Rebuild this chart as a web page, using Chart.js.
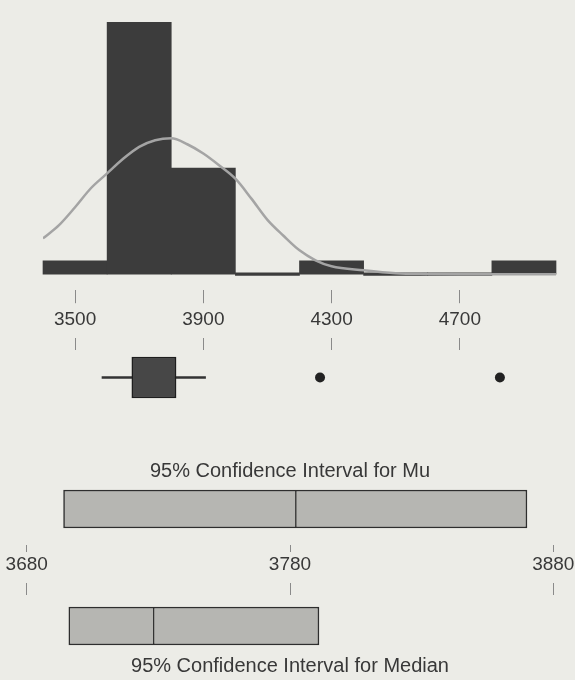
<!DOCTYPE html>
<html>
<head>
<meta charset="utf-8">
<script src="https://cdn.jsdelivr.net/npm/chart.js@4"></script>
<style>
  body { margin: 0; background: #ecece7; }
  #wrap { position: relative; width: 575px; height: 680px; overflow: hidden; }
  canvas { position: absolute; left: 0; }
</style>
</head>
<body>
<div id="wrap">
  <canvas id="hist" width="575" height="336" style="top:0px"></canvas>
  <canvas id="box" width="575" height="74" style="top:336px"></canvas>
  <canvas id="ci" width="575" height="240" style="top:440px"></canvas>
</div>
<script>
// histogram (bin centres, counts) and fitted normal curve
const binCenters = [3500, 3700, 3900, 4100, 4300, 4500, 4700, 4900];
const binCounts = [1, 19, 8, 0, 1, 0, 0, 1];
const histTicks = [3500, 3900, 4300, 4700];
const curveX = [3400, 3450, 3500, 3550, 3600, 3650, 3700, 3750, 3800, 3850, 3900, 3950, 4000,
                4050, 4100, 4150, 4200, 4250, 4300, 4400, 4500, 4600, 4700, 4800, 4900, 5000];
const curveY = [2.7, 3.7, 5.05, 6.5, 7.6, 8.7, 9.6, 10.1, 10.25, 9.8, 9.1, 8.2, 7.2,
                5.7, 4.1, 2.9, 1.8, 1.05, 0.6, 0.3, 0.08, 0.02, 0, 0, 0, 0];

// boxplot
const boxWhisker = [3584, 3907];
const boxQuartiles = [3677, 3815];
const boxOutliers = [4264, 4825];

// confidence intervals: [lower, centre, upper]
const ciTicks = [3680, 3780, 3880];
const muCI = [3694, 3782, 3870];
const medianCI = [3696, 3728, 3791];

Chart.defaults.font.family = "'Liberation Sans', Arial, sans-serif";
Chart.defaults.color = '#383838';
Chart.defaults.animation = false;

const tickGray = '#8a8a8a';
const setTicks = list => scale => { scale.ticks = list.map(v => ({ value: v })); };

new Chart(document.getElementById('hist'), {
    type: 'bar',
    data: {
        datasets: [{
            type: 'line',
            data: curveX.map((x, i) => ({ x: x, y: curveY[i] })),
            borderColor: '#a4a4a4',
            borderWidth: 2.5,
            pointRadius: 0,
            cubicInterpolationMode: 'monotone',
            order: 1
        }, {
            data: binCenters.map((x, i) => ({ x: x, y: binCounts[i] })),
            backgroundColor: '#3c3c3c',
            barPercentage: 1,
            categoryPercentage: 1,
            minBarLength: 2.5,
            clip: false,
            order: 2
        }]
    },
    options: {
        responsive: false,
        layout: { padding: { top: 9, left: 43, right: 19, bottom: 0 } },
        plugins: { legend: { display: false }, tooltip: { enabled: false } },
        scales: {
            x: {
                type: 'linear', min: 3400, max: 5000, offset: false,
                afterBuildTicks: setTicks(histTicks),
                grid: { offset: false, drawOnChartArea: false, tickLength: 13, color: tickGray },
                border: { display: false },
                ticks: { font: { size: 19 }, padding: 5, autoSkip: false, maxRotation: 0, callback: v => String(v) }
            },
            y: { display: false, min: -1.2075, max: 20 }
        }
    }
});

new Chart(document.getElementById('box'), {
    type: 'bar',
    data: {
        labels: ['Box'],
        datasets: [{
            type: 'line',
            data: boxOutliers.map(x => ({ x: x, y: 'Box' })),
            showLine: false,
            pointRadius: 5,
            pointBackgroundColor: '#222',
            pointBorderWidth: 0,
            clip: false,
            order: 1
        }, {
            data: [boxQuartiles],
            backgroundColor: '#474747',
            borderColor: '#1e1e1e',
            borderWidth: 1.5,
            borderSkipped: false,
            barThickness: 41,
            grouped: false,
            clip: false,
            order: 2
        }, {
            data: [boxWhisker],
            backgroundColor: '#333',
            barThickness: 2,
            grouped: false,
            clip: false,
            order: 3
        }]
    },
    options: {
        indexAxis: 'y',
        responsive: false,
        layout: { padding: { top: 2, left: 43, right: 19, bottom: 0 } },
        plugins: { legend: { display: false }, tooltip: { enabled: false } },
        scales: {
            x: {
                type: 'linear', min: 3400, max: 5000, position: 'top',
                afterBuildTicks: setTicks(histTicks),
                grid: { drawOnChartArea: false, tickLength: 12, color: tickGray },
                border: { display: false },
                ticks: { display: false }
            },
            y: { display: false }
        }
    }
});

const ciBox = {
    backgroundColor: '#b6b6b2',
    borderColor: '#2e2e2e',
    borderSkipped: false,
    barThickness: 38,
    grouped: false,
    clip: false
};

new Chart(document.getElementById('ci'), {
    type: 'bar',
    data: {
        labels: ['Mu', 'Median'],
        datasets: [
            Object.assign({
                data: [[muCI[0], muCI[1]], [medianCI[0], medianCI[1]]],
                borderWidth: { top: 1.5, bottom: 1.5, left: 1.5, right: 0 }
            }, ciBox),
            Object.assign({
                data: [[muCI[1], muCI[2]], [medianCI[1], medianCI[2]]],
                borderWidth: 1.5
            }, ciBox)
        ]
    },
    options: {
        indexAxis: 'y',
        responsive: false,
        layout: { padding: { top: 0, left: 26.7, right: 21.7, bottom: 0 } },
        plugins: {
            legend: { display: false },
            tooltip: { enabled: false },
            title: {
                display: true, text: '95% Confidence Interval for Mu', fullSize: false,
                font: { size: 20, weight: 'normal' },
                padding: { top: 19, bottom: 26 }
            },
            subtitle: {
                display: true, text: '95% Confidence Interval for Median', fullSize: false,
                position: 'bottom',
                font: { size: 20, weight: 'normal' },
                padding: { top: 28, bottom: 2 }
            }
        },
        scales: {
            x: {
                type: 'linear', min: ciTicks[0], max: ciTicks[ciTicks.length - 1],
                position: { y: 0.3077 },
                afterBuildTicks: setTicks(ciTicks),
                // end labels may hang over the plot edges, as in the original
                afterFit: s => { s.paddingLeft = 0; s.paddingRight = 0; },
                grid: { drawOnChartArea: true, drawTicks: false, color: tickGray },
                border: { display: false, dash: [0, 36, 7, 31, 12, 300] },
                ticks: { font: { size: 19 }, padding: 8.6, autoSkip: false, maxRotation: 0, callback: v => String(v) }
            },
            y: { display: false, offset: false }
        }
    }
});
</script>
</body>
</html>
